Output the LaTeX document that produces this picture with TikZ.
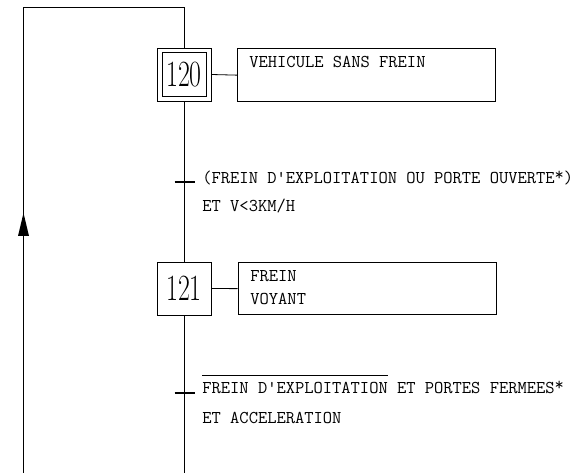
\documentclass[tikz,border=0pt]{standalone}
\usepackage{fontspec}
\newcommand\myovl[1]{\setbox0\hbox{#1}\rlap{\rule[18pt]{\wd0}{0.8pt}}\box0}
\newcommand\upstar{\raisebox{3.5pt}{*}}
\begin{document}
\begin{tikzpicture}[x=1pt,y=-1pt,line width=0.8pt]
\tikzset{
  stepbox/.style={draw, minimum width=54pt, minimum height=53pt, inner sep=0pt,
    font=\fontsize{37}{37}\selectfont},
  stepinner/.style={draw, minimum width=44pt, minimum height=44pt, inner sep=0pt,
    font=\fontsize{37}{37}\selectfont},
  actbox/.style={draw, anchor=north west, minimum width=258pt, minimum height=52.5pt, inner sep=0pt},
  lbl/.style={anchor=base west, inner sep=0pt, font=\ttfamily\fontsize{18}{18}\selectfont},
  tick/.style={line width=2pt},
  link/.style={line width=0.8pt},
}
\useasboundingbox (0,0) rectangle (582,473);
\fill[white] (0,0) rectangle (582,473);

% steps
\node[stepbox] (s120) at (184,74.5) {};
\node[stepinner] (s120in) at (184,74.5) {\scalebox{0.7}[1]{120}};
\node[stepbox] (s121) at (184,288.5) {\scalebox{0.7}[1]{121}};

% actions
\node[actbox] (a120) at (237,48.5) {};
\node[actbox] (a121) at (237.5,262) {};
\node[lbl] (t120) at (249,68) {VEHICULE SANS FREIN};
\node[lbl] (t121a) at (250,282) {FREIN};
\node[lbl] (t121b) at (250,305) {VOYANT};

\draw[link] (s120.east) -- (a120.west);
\draw[link] (s121.east) -- (a121.west);

% coordinates of the loop and transitions
\coordinate (top) at (184,7.5);
\coordinate (topl) at (23.5,7.5);
\coordinate (botl) at (23.5,473);
\coordinate (bot) at (184,473);
\coordinate (tr1) at (184,182);
\coordinate (tr2) at (184,393.5);

\draw[link] (botl) -- (topl) -- (top) -- (s120.north);
\draw[link] (s120.south) -- (s121.north);
\draw[link] (s121.south) -- (bot);

% loop arrow
\fill (18,236) -- (23.5,213) -- (29,236) -- cycle;

% transitions
\draw[tick] ([xshift=-9.5pt]tr1) -- ([xshift=10.5pt]tr1);
\draw[tick] ([xshift=-9.5pt]tr2) -- ([xshift=10.5pt]tr2);

\node[lbl] (c1a) at (202,184) {(FREIN D'EXPLOITATION OU PORTE OUVERTE\upstar)};
\node[lbl] (c1b) at (202,211.5) {ET V<3KM/H};
\node[lbl] (c2a) at (202,394) {{\myovl{FREIN D'EXPLOITATION}} ET PORTES FERMEES\upstar};
\node[lbl] (c2b) at (202,424) {ET ACCELERATION};
\end{tikzpicture}
\end{document}
